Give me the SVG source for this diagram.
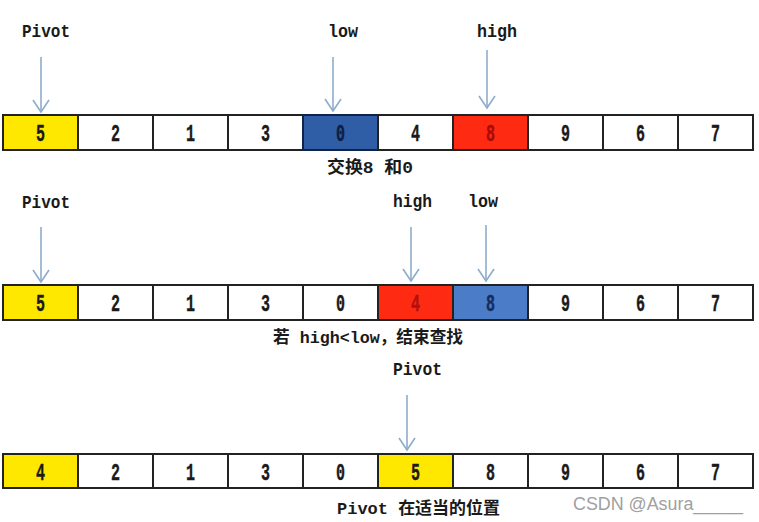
<svg xmlns="http://www.w3.org/2000/svg" width="759" height="522" viewBox="0 0 759 522">
<defs>
<style>
.cell{fill:#ffffff;stroke:#222222;stroke-width:2}
.yel{fill:#ffe800}
.red{fill:#ff2a12}
.blu1{fill:#2f5ea6}
.blu2{fill:#4a7cc8}
.num{font-family:"Liberation Mono","DejaVu Sans Mono",monospace;font-weight:bold;font-size:24px;fill:#1a1a1a;text-anchor:middle;stroke:#1a1a1a;stroke-width:0.4}
.lbl{font-family:"Liberation Mono","DejaVu Sans Mono",monospace;font-weight:bold;font-size:19px;fill:#1a1a1a}
.cap{font-family:"Liberation Mono","Noto Sans CJK SC",monospace;font-weight:bold;font-size:17px;fill:#1a1a1a}
.arr{stroke:#8eaccb;stroke-width:1.6;fill:none}
.wm{font-family:"Liberation Sans",Arial,sans-serif;font-size:17.5px;fill:#a0a0a0}
</style>
<marker id="ah" viewBox="0 0 20 20" refX="18" refY="10" markerWidth="20" markerHeight="20" markerUnits="userSpaceOnUse" orient="auto">
<path d="M6,2 L18,10 L6,18" stroke="#8eaccb" stroke-width="1.6" fill="none"/>
</marker>
</defs>
<rect width="759" height="522" fill="#ffffff"/>

<g id="row1">
<g id="r1c0"><rect class="cell yel" x="3" y="115" width="75" height="35"/><text class="num" x="40.5" y="141" textLength="9" lengthAdjust="spacingAndGlyphs">5</text></g>
<g id="r1c1"><rect class="cell" x="78" y="115" width="75" height="35"/><text class="num" x="115.5" y="141" textLength="9" lengthAdjust="spacingAndGlyphs">2</text></g>
<g id="r1c2"><rect class="cell" x="153" y="115" width="75" height="35"/><text class="num" x="190.5" y="141" textLength="9" lengthAdjust="spacingAndGlyphs">1</text></g>
<g id="r1c3"><rect class="cell" x="228" y="115" width="75" height="35"/><text class="num" x="265.5" y="141" textLength="9" lengthAdjust="spacingAndGlyphs">3</text></g>
<g id="r1c4"><rect class="cell blu1" x="303" y="115" width="75" height="35" style="stroke:#10244a"/><text class="num" x="340.5" y="141" textLength="9" lengthAdjust="spacingAndGlyphs" style="fill:#0e1e3e;stroke:#0e1e3e">0</text></g>
<g id="r1c5"><rect class="cell" x="378" y="115" width="75" height="35"/><text class="num" x="415.5" y="141" textLength="9" lengthAdjust="spacingAndGlyphs">4</text></g>
<g id="r1c6"><rect class="cell red" x="453" y="115" width="75" height="35"/><text class="num" x="490.5" y="141" textLength="9" lengthAdjust="spacingAndGlyphs" style="fill:#a80a0a;stroke:#a80a0a">8</text></g>
<g id="r1c7"><rect class="cell" x="528" y="115" width="75" height="35"/><text class="num" x="565.5" y="141" textLength="9" lengthAdjust="spacingAndGlyphs">9</text></g>
<g id="r1c8"><rect class="cell" x="603" y="115" width="75" height="35"/><text class="num" x="640.5" y="141" textLength="9" lengthAdjust="spacingAndGlyphs">6</text></g>
<g id="r1c9"><rect class="cell" x="678" y="115" width="75" height="35"/><text class="num" x="715.5" y="141" textLength="9" lengthAdjust="spacingAndGlyphs">7</text></g>
</g>

<g id="row2">
<g id="r2c0"><rect class="cell yel" x="3" y="285" width="75" height="35"/><text class="num" x="40.5" y="311" textLength="9" lengthAdjust="spacingAndGlyphs">5</text></g>
<g id="r2c1"><rect class="cell" x="78" y="285" width="75" height="35"/><text class="num" x="115.5" y="311" textLength="9" lengthAdjust="spacingAndGlyphs">2</text></g>
<g id="r2c2"><rect class="cell" x="153" y="285" width="75" height="35"/><text class="num" x="190.5" y="311" textLength="9" lengthAdjust="spacingAndGlyphs">1</text></g>
<g id="r2c3"><rect class="cell" x="228" y="285" width="75" height="35"/><text class="num" x="265.5" y="311" textLength="9" lengthAdjust="spacingAndGlyphs">3</text></g>
<g id="r2c4"><rect class="cell" x="303" y="285" width="75" height="35"/><text class="num" x="340.5" y="311" textLength="9" lengthAdjust="spacingAndGlyphs">0</text></g>
<g id="r2c5"><rect class="cell red" x="378" y="285" width="75" height="35"/><text class="num" x="415.5" y="311" textLength="9" lengthAdjust="spacingAndGlyphs" style="fill:#b01010;stroke:#b01010">4</text></g>
<g id="r2c6"><rect class="cell blu2" x="453" y="285" width="75" height="35"/><text class="num" x="490.5" y="311" textLength="9" lengthAdjust="spacingAndGlyphs" style="fill:#142c5c;stroke:#142c5c">8</text></g>
<g id="r2c7"><rect class="cell" x="528" y="285" width="75" height="35"/><text class="num" x="565.5" y="311" textLength="9" lengthAdjust="spacingAndGlyphs">9</text></g>
<g id="r2c8"><rect class="cell" x="603" y="285" width="75" height="35"/><text class="num" x="640.5" y="311" textLength="9" lengthAdjust="spacingAndGlyphs">6</text></g>
<g id="r2c9"><rect class="cell" x="678" y="285" width="75" height="35"/><text class="num" x="715.5" y="311" textLength="9" lengthAdjust="spacingAndGlyphs">7</text></g>
</g>

<g id="row3">
<g id="r3c0"><rect class="cell yel" x="3" y="454" width="75" height="34"/><text class="num" x="40.5" y="479.5" textLength="9" lengthAdjust="spacingAndGlyphs">4</text></g>
<g id="r3c1"><rect class="cell" x="78" y="454" width="75" height="34"/><text class="num" x="115.5" y="479.5" textLength="9" lengthAdjust="spacingAndGlyphs">2</text></g>
<g id="r3c2"><rect class="cell" x="153" y="454" width="75" height="34"/><text class="num" x="190.5" y="479.5" textLength="9" lengthAdjust="spacingAndGlyphs">1</text></g>
<g id="r3c3"><rect class="cell" x="228" y="454" width="75" height="34"/><text class="num" x="265.5" y="479.5" textLength="9" lengthAdjust="spacingAndGlyphs">3</text></g>
<g id="r3c4"><rect class="cell" x="303" y="454" width="75" height="34"/><text class="num" x="340.5" y="479.5" textLength="9" lengthAdjust="spacingAndGlyphs">0</text></g>
<g id="r3c5"><rect class="cell yel" x="378" y="454" width="75" height="34"/><text class="num" x="415.5" y="479.5" textLength="9" lengthAdjust="spacingAndGlyphs">5</text></g>
<g id="r3c6"><rect class="cell" x="453" y="454" width="75" height="34"/><text class="num" x="490.5" y="479.5" textLength="9" lengthAdjust="spacingAndGlyphs">8</text></g>
<g id="r3c7"><rect class="cell" x="528" y="454" width="75" height="34"/><text class="num" x="565.5" y="479.5" textLength="9" lengthAdjust="spacingAndGlyphs">9</text></g>
<g id="r3c8"><rect class="cell" x="603" y="454" width="75" height="34"/><text class="num" x="640.5" y="479.5" textLength="9" lengthAdjust="spacingAndGlyphs">6</text></g>
<g id="r3c9"><rect class="cell" x="678" y="454" width="75" height="34"/><text class="num" x="715.5" y="479.5" textLength="9" lengthAdjust="spacingAndGlyphs">7</text></g>
</g>

<g id="pointers">
<g id="p1-pivot"><text class="lbl" x="22" y="37" textLength="48" lengthAdjust="spacingAndGlyphs">Pivot</text></g>
<g id="p1-low"><text class="lbl" x="328" y="37" textLength="30" lengthAdjust="spacingAndGlyphs">low</text></g>
<g id="p1-high"><text class="lbl" x="477" y="37" textLength="40" lengthAdjust="spacingAndGlyphs">high</text></g>
<g id="p2-pivot"><text class="lbl" x="22" y="208" textLength="48" lengthAdjust="spacingAndGlyphs">Pivot</text></g>
<g id="p2-high"><text class="lbl" x="393" y="207" textLength="39" lengthAdjust="spacingAndGlyphs">high</text></g>
<g id="p2-low"><text class="lbl" x="468" y="207" textLength="30" lengthAdjust="spacingAndGlyphs">low</text></g>
<g id="p3-pivot"><text class="lbl" x="393" y="375" textLength="49" lengthAdjust="spacingAndGlyphs">Pivot</text></g>
</g>

<g id="connectors">
<line class="arr" x1="41" y1="57" x2="41" y2="112" marker-end="url(#ah)"/>
<line class="arr" x1="333" y1="57" x2="333" y2="111" marker-end="url(#ah)"/>
<line class="arr" x1="487" y1="50" x2="487" y2="108" marker-end="url(#ah)"/>
<line class="arr" x1="41" y1="227" x2="41" y2="282" marker-end="url(#ah)"/>
<line class="arr" x1="411" y1="227" x2="411" y2="281" marker-end="url(#ah)"/>
<line class="arr" x1="486" y1="225" x2="486" y2="281" marker-end="url(#ah)"/>
<line class="arr" x1="407" y1="395" x2="407" y2="450" marker-end="url(#ah)"/>
</g>

<g id="captions">
<text class="cap" x="327" y="173" textLength="86" lengthAdjust="spacingAndGlyphs">交换8 和0</text>
<text class="cap" x="273" y="343" textLength="190" lengthAdjust="spacingAndGlyphs">若 high&lt;low，结束查找</text>
<text class="cap" x="337" y="514" textLength="163" lengthAdjust="spacingAndGlyphs">Pivot 在适当的位置</text>
</g>

<text class="wm" x="573" y="510" textLength="170" lengthAdjust="spacingAndGlyphs">CSDN @Asura_____</text>
</svg>
